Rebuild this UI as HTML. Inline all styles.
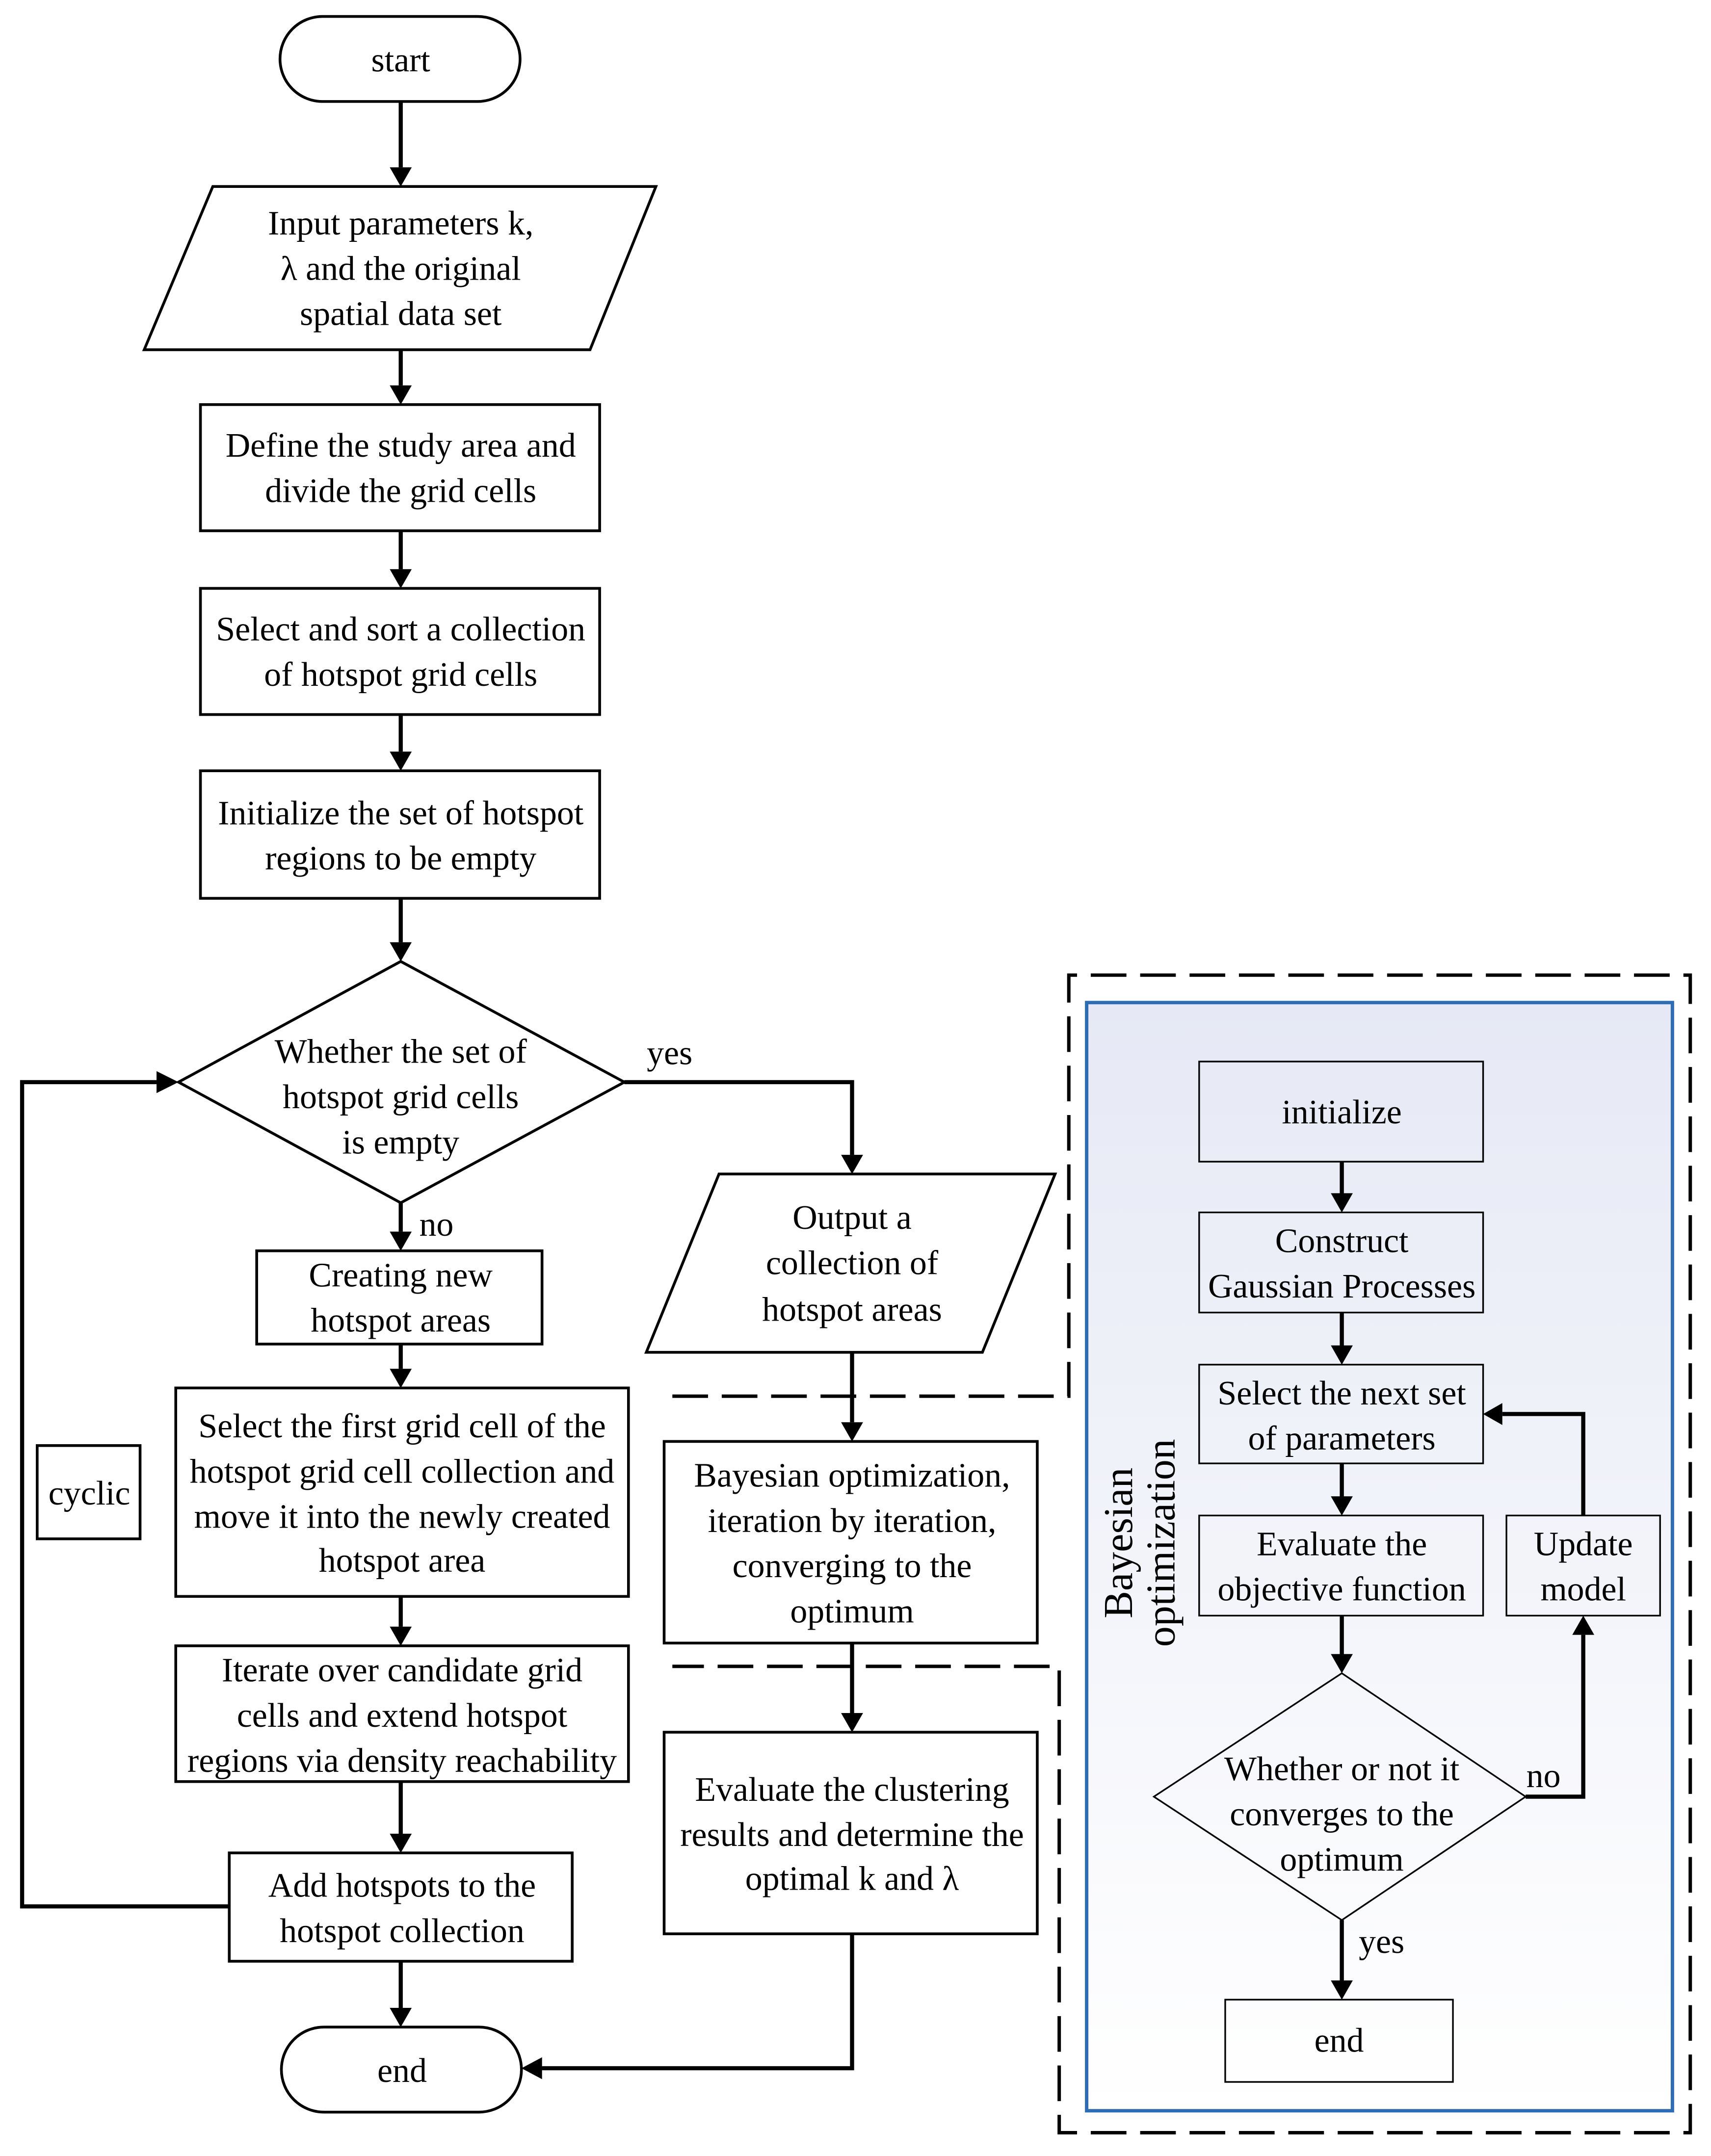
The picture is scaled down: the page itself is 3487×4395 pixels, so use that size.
<!DOCTYPE html>
<html><head><style>html,body{margin:0;padding:0;background:#fff}svg{display:block}</style></head>
<body>
<svg xmlns="http://www.w3.org/2000/svg" width="3487" height="4395" viewBox="0 0 1247 1572">
<defs>
<linearGradient id="g" x1="0" y1="0" x2="0" y2="1"><stop offset="0" stop-color="#e6e9f5"/><stop offset="1" stop-color="#ffffff"/></linearGradient>
</defs>
<style>
text{font-family:"Liberation Serif",serif;font-size:25px;text-anchor:middle;fill:#000}
.b{fill:#fff;stroke:#000;stroke-width:2}
.t{fill:none;stroke:#000;stroke-width:1.2}
.l{fill:none;stroke:#000;stroke-width:3}
</style>
<path d="M490,1018 H779 V711 H1232 V1555 H772 V1215 H490" fill="none" stroke="#000" stroke-width="2.5" stroke-dasharray="26,10"/>
<rect x="792" y="731" width="427" height="808" fill="url(#g)" stroke="#2e6db4" stroke-width="2.5"/>

<rect class="b" x="204" y="12" width="175" height="62" rx="31"/>
<text x="292" y="52">start</text>
<polygon class="b" points="155,136 478,136 430,255 105,255"/>
<text x="292" y="171">Input parameters k,</text>
<text x="292" y="204">λ and the original</text>
<text x="292" y="237">spatial data set</text>
<rect class="b" x="146" y="295" width="291" height="92"/>
<text x="292" y="333">Define the study area and</text>
<text x="292" y="366">divide the grid cells</text>
<rect class="b" x="146" y="429" width="291" height="92"/>
<text x="292" y="467">Select and sort a collection</text>
<text x="292" y="500">of hotspot grid cells</text>
<rect class="b" x="146" y="562" width="291" height="93"/>
<text x="292" y="601">Initialize the set of hotspot</text>
<text x="292" y="634">regions to be empty</text>
<polygon class="b" points="292,701 455,789 292,877 130,789"/>
<text x="292" y="775">Whether the set of</text>
<text x="292" y="808">hotspot grid cells</text>
<text x="292" y="841">is empty</text>
<rect class="b" x="187" y="912" width="208" height="68"/>
<text x="292" y="938">Creating new</text>
<text x="292" y="971">hotspot areas</text>
<rect class="b" x="128" y="1012" width="330" height="152"/>
<text x="293" y="1048">Select the first grid cell of the</text>
<text x="293" y="1081">hotspot grid cell collection and</text>
<text x="293" y="1114">move it into the newly created</text>
<text x="293" y="1146">hotspot area</text>
<rect class="b" x="128" y="1200" width="330" height="99"/>
<text x="293" y="1226">Iterate over candidate grid</text>
<text x="293" y="1259">cells and extend hotspot</text>
<text x="293" y="1292">regions via density reachability</text>
<rect class="b" x="167" y="1351" width="250" height="79"/>
<text x="293" y="1383">Add hotspots to the</text>
<text x="293" y="1416">hotspot collection</text>
<rect class="b" x="205" y="1478" width="175" height="62" rx="31"/>
<text x="293" y="1518">end</text>
<rect class="b" x="27" y="1054" width="75" height="68"/>
<text x="65" y="1097">cyclic</text>

<polygon class="b" points="524,856 769,856 716,986 471,986"/>
<text x="621" y="896">Output a</text>
<text x="621" y="929">collection of</text>
<text x="621" y="963">hotspot areas</text>
<rect class="b" x="484" y="1051" width="272" height="147"/>
<text x="621" y="1084">Bayesian optimization,</text>
<text x="621" y="1117">iteration by iteration,</text>
<text x="621" y="1150">converging to the</text>
<text x="621" y="1183">optimum</text>
<rect class="b" x="484" y="1263" width="272" height="147"/>
<text x="621" y="1313">Evaluate the clustering</text>
<text x="621" y="1346">results and determine the</text>
<text x="621" y="1378">optimal k and λ</text>

<text x="488" y="776">yes</text>
<text x="318" y="901">no</text>

<g class="l">
<path d="M292,74 V122"/><path d="M292,255 V281"/><path d="M292,387 V415"/><path d="M292,521 V548"/>
<path d="M292,655 V687"/><path d="M292,877 V898"/><path d="M292,980 V998"/><path d="M292,1164 V1186"/>
<path d="M292,1299 V1337"/><path d="M292,1430 V1464"/>
<path d="M167,1390 H16 V789 H116"/>
<path d="M455,789 H621 V842"/><path d="M621,986 V1037"/><path d="M621,1198 V1249"/>
<path d="M621,1410 V1508 H393"/>
</g>
<g fill="#000">
<polygon points="284,122 300,122 292,136"/><polygon points="284,281 300,281 292,295"/>
<polygon points="284,415 300,415 292,429"/><polygon points="284,548 300,548 292,562"/>
<polygon points="284,687 300,687 292,701"/><polygon points="284,898 300,898 292,912"/>
<polygon points="284,998 300,998 292,1012"/><polygon points="284,1186 300,1186 292,1200"/>
<polygon points="284,1337 300,1337 292,1351"/><polygon points="284,1464 300,1464 292,1478"/>
<polygon points="114,781 114,797 130,789"/>
<polygon points="613,842 629,842 621,856"/><polygon points="613,1037 629,1037 621,1051"/>
<polygon points="613,1249 629,1249 621,1263"/>
<polygon points="395,1500 395,1516 380,1508"/>
</g>

<text transform="translate(825,1125) rotate(-90)" style="font-size:30px">Bayesian</text>
<text transform="translate(856,1125) rotate(-90)" style="font-size:30px">optimization</text>
<rect class="t" x="874" y="774" width="207" height="73"/>
<text x="978" y="819">initialize</text>
<rect class="t" x="874" y="884" width="207" height="73"/>
<text x="978" y="913">Construct</text>
<text x="978" y="946">Gaussian Processes</text>
<rect class="t" x="874" y="995" width="207" height="72"/>
<text x="978" y="1024">Select the next set</text>
<text x="978" y="1057">of parameters</text>
<rect class="t" x="874" y="1105" width="207" height="73"/>
<text x="978" y="1134">Evaluate the</text>
<text x="978" y="1167">objective function</text>
<rect class="t" x="1098" y="1105" width="112" height="73"/>
<text x="1154" y="1134">Update</text>
<text x="1154" y="1167">model</text>
<polygon class="t" points="978,1220 1112,1310 978,1400 841,1310"/>
<text x="978" y="1298">Whether or not it</text>
<text x="978" y="1331">converges to the</text>
<text x="978" y="1364">optimum</text>
<rect class="t" x="893" y="1458" width="166" height="60"/>
<text x="976" y="1496">end</text>
<text x="1125" y="1303">no</text>
<text x="1007" y="1424">yes</text>
<g class="l">
<path d="M978,847 V871"/><path d="M978,957 V982"/><path d="M978,1067 V1092"/><path d="M978,1178 V1207"/>
<path d="M1112,1310 H1154 V1192"/><path d="M1154,1105 V1031 H1095"/><path d="M978,1400 V1445"/>
</g>
<g fill="#000">
<polygon points="970,870 986,870 978,884"/><polygon points="970,981 986,981 978,995"/>
<polygon points="970,1091 986,1091 978,1105"/><polygon points="970,1206 986,1206 978,1220"/>
<polygon points="1146,1192 1162,1192 1154,1178"/><polygon points="1095,1023 1095,1039 1081,1031"/>
<polygon points="970,1444 986,1444 978,1458"/>
</g>
</svg>
</body></html>
